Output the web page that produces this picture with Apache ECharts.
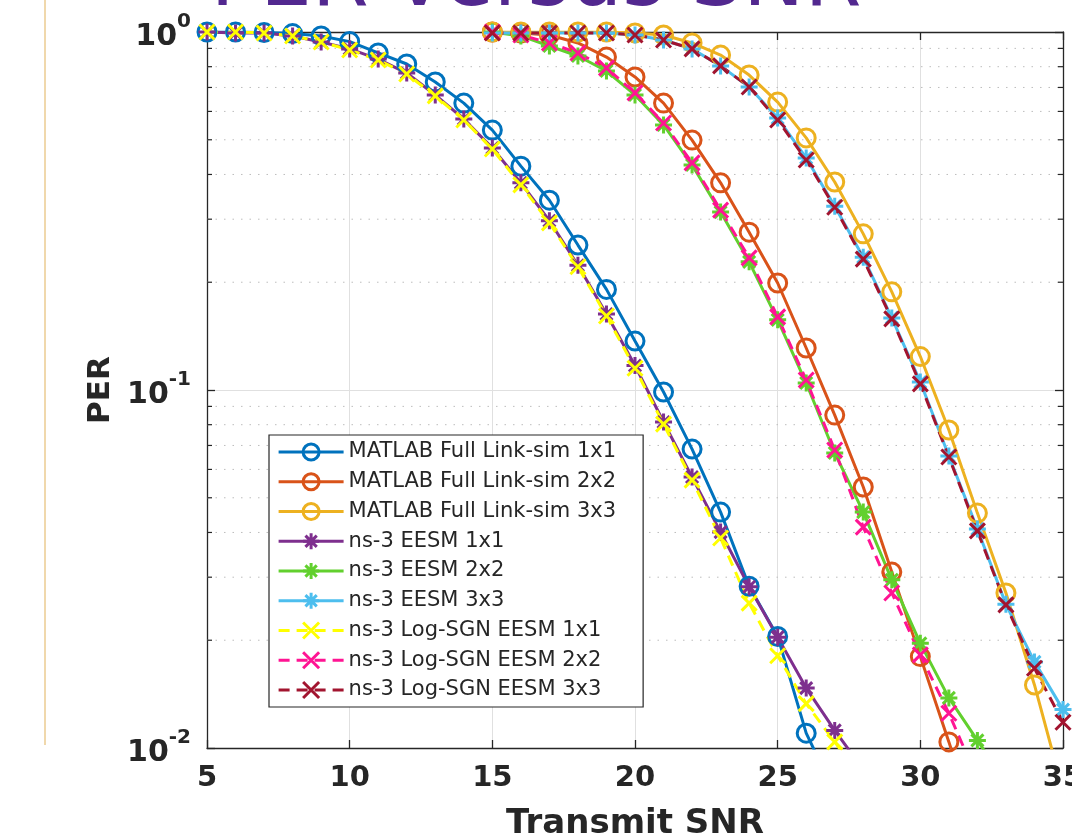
<!DOCTYPE html>
<html><head><meta charset="utf-8">
<script src="https://cdn.jsdelivr.net/npm/echarts@6/dist/echarts.min.js"></script>
<style>html,body{margin:0;padding:0;background:#fff;overflow:hidden}#c{width:1072px;height:835px}</style>
</head><body><div id="c"></div><script>
// ---- data ----
const snr_5_27 = [5,6,7,8,9,10,11,12,13,14,15,16,17,18,19,20,21,22,23,24,25,26,27];
const snr_5_28 = [5,6,7,8,9,10,11,12,13,14,15,16,17,18,19,20,21,22,23,24,25,26,27,28];
const snr_15_32 = [15,16,17,18,19,20,21,22,23,24,25,26,27,28,29,30,31,32];
const snr_15_33 = [15,16,17,18,19,20,21,22,23,24,25,26,27,28,29,30,31,32,33];
const snr_15_35 = [15,16,17,18,19,20,21,22,23,24,25,26,27,28,29,30,31,32,33,34,35];

const perMatlab1x1 = [1.0,1.0,0.997,0.99,0.975,0.94,0.874,0.814,0.725,0.633,0.532,0.422,0.339,0.254,0.191,0.137,0.0987,0.0684,0.0456,0.0283,0.0205,0.0110,0.0075];
const perMatlab2x2 = [1.0,0.994,0.981,0.932,0.851,0.749,0.633,0.499,0.379,0.276,0.199,0.131,0.0851,0.0536,0.0310,0.0180,0.0104,0.0059];
const perMatlab3x3 = [1.0,1.0,1.0,1.0,1.0,0.994,0.981,0.932,0.862,0.758,0.637,0.506,0.381,0.273,0.188,0.124,0.0773,0.0453,0.0271,0.0150,0.0076];
const perEesm1x1 = [1.0,0.994,0.994,0.975,0.938,0.897,0.840,0.768,0.667,0.571,0.474,0.379,0.297,0.223,0.163,0.117,0.0814,0.0571,0.0401,0.0282,0.0204,0.0147,0.0112,0.0087];
const perEesm2x2 = [1.0,0.975,0.914,0.857,0.778,0.667,0.550,0.425,0.314,0.228,0.157,0.1046,0.0667,0.0456,0.0295,0.0196,0.0138,0.0105,0.0080];
const perEesm3x3 = [0.994,0.994,0.994,0.994,0.994,0.981,0.950,0.897,0.804,0.702,0.575,0.445,0.326,0.235,0.159,0.1053,0.0654,0.0409,0.0252,0.0174,0.0128];
const perLogSgn1x1 = [1.0,1.0,0.994,0.975,0.938,0.891,0.835,0.763,0.663,0.568,0.471,0.374,0.293,0.221,0.161,0.115,0.0803,0.0560,0.0386,0.0254,0.0181,0.0133,0.0104,0.0081];
const perLogSgn2x2 = [1.0,0.981,0.932,0.874,0.793,0.676,0.557,0.431,0.318,0.234,0.160,0.1066,0.0680,0.0414,0.0271,0.0182,0.0125,0.0082];
const perLogSgn3x3 = [0.994,0.994,0.994,0.994,0.994,0.981,0.950,0.897,0.804,0.702,0.568,0.439,0.324,0.232,0.158,0.104,0.0650,0.0404,0.0251,0.0167,0.0118];

const seriesNames = ['MATLAB Full Link-sim 1x1','MATLAB Full Link-sim 2x2','MATLAB Full Link-sim 3x3',
  'ns-3 EESM 1x1','ns-3 EESM 2x2','ns-3 EESM 3x3',
  'ns-3 Log-SGN EESM 1x1','ns-3 Log-SGN EESM 2x2','ns-3 Log-SGN EESM 3x3'];
const minorTicks = [0.02,0.03,0.04,0.05,0.06,0.07,0.08,0.09,0.2,0.3,0.4,0.5,0.6,0.7,0.8,0.9];
const xMin = 5, xMax = 35, xStep = 5, yMin = 0.01, yMax = 1;
const titleText = 'PER versus SNR';
const xName = 'Transmit SNR', yName = 'PER';

// ---- styles ----
const FONT = 'DejaVu Sans';
const INK = '#262626';
const SYM = {
  circle: 'path://M10,0 A10,10 0 1,1 -10,0 A10,10 0 1,1 10,0 Z',
  star: 'path://M0,-10 L0,10 M-10,0 L10,0 M-7.07,-7.07 L7.07,7.07 M-7.07,7.07 L7.07,-7.07',
  cross: 'path://M-10,-10 L10,10 M-10,10 L10,-10'
};
function mk(name, xs, ys, color, sym, size, dashed) {
  return {
    type: 'line', name: name,
    data: xs.map((x, i) => [x, ys[i]]),
    symbol: SYM[sym], symbolSize: size, showSymbol: true,
    clip: true, animation: false,
    lineStyle: { color: color, width: 3, type: dashed ? [11, 7] : 'solid' },
    itemStyle: { color: 'transparent', borderColor: color, borderWidth: 3 },
    emphasis: { disabled: true }
  };
}
const series = [
  {
    type: 'custom', name: 'minorGrid', silent: true, z: 1,
    data: minorTicks.map(v => [xMin, v]),
    renderItem: function (params, api) {
      const v = api.value(1);
      const p0 = api.coord([xMin, v]);
      const p1 = api.coord([xMax, v]);
      return { type: 'group', children: [
        { type: 'line', shape: { x1: p0[0], y1: p0[1], x2: p1[0], y2: p1[1] },
          style: { stroke: '#bdbdbd', lineWidth: 1, lineDash: [1.5, 7] } },
        { type: 'line', shape: { x1: p0[0], y1: p0[1], x2: p0[0] + 5, y2: p0[1] },
          style: { stroke: INK, lineWidth: 1.2 } },
        { type: 'line', shape: { x1: p1[0] - 5, y1: p1[1], x2: p1[0], y2: p1[1] },
          style: { stroke: INK, lineWidth: 1.2 } }
      ] };
    }
  },
  mk(seriesNames[0], snr_5_27, perMatlab1x1, '#0072BD', 'circle', 18, false),
  mk(seriesNames[1], snr_15_32, perMatlab2x2, '#D95319', 'circle', 18, false),
  mk(seriesNames[2], snr_15_35, perMatlab3x3, '#EDB120', 'circle', 18, false),
  mk(seriesNames[3], snr_5_28, perEesm1x1, '#7E2F8E', 'star', 17, false),
  mk(seriesNames[4], snr_15_33, perEesm2x2, '#62D02E', 'star', 17, false),
  mk(seriesNames[5], snr_15_35, perEesm3x3, '#4DBEEE', 'star', 17, false),
  mk(seriesNames[6], snr_5_28, perLogSgn1x1, '#FFFF00', 'cross', 15, true),
  mk(seriesNames[7], snr_15_32, perLogSgn2x2, '#FF1493', 'cross', 15, true),
  mk(seriesNames[8], snr_15_35, perLogSgn3x3, '#A2142F', 'cross', 15, true)
];

const axisLine = { show: true, onZero: false, lineStyle: { color: INK, width: 1.3 } };
const axisTick = { show: true, inside: true, length: 8, lineStyle: { color: INK, width: 1.3 } };
const gridLine = { show: true, lineStyle: { color: '#e0e0e0', width: 1 } };

const option = {
  animation: false,
  backgroundColor: '#ffffff',
  title: { text: titleText, left: 'center', top: -62,
    textStyle: { fontFamily: FONT, fontSize: 82, fontWeight: 'normal', color: '#52288f' } },
  graphic: [{ type: 'line', shape: { x1: 45, y1: 0, x2: 45, y2: 745 },
    style: { stroke: '#EBCB90', lineWidth: 1.5 }, z: 0 }],
  grid: { left: 207, right: 9, top: 32, bottom: 87, containLabel: false, outerBoundsMode: 'none' },
  legend: {
    data: seriesNames, orient: 'vertical', left: 269, top: 435,
    padding: [6, 27, 6, 8], itemGap: 7.75, itemWidth: 65, itemHeight: 20,
    backgroundColor: '#ffffff', borderColor: INK, borderWidth: 1.2,
    itemStyle: { borderWidth: 3 },
    lineStyle: { width: 3.2 },
    textStyle: { fontFamily: FONT, fontSize: 21, color: INK, lineHeight: 22 },
    selectedMode: false
  },
  xAxis: [
    { type: 'value', min: xMin, max: xMax, interval: xStep, position: 'bottom',
      axisLine: axisLine, axisTick: axisTick, splitLine: gridLine,
      axisLabel: { fontFamily: FONT, fontWeight: 'bold', fontSize: 29, color: INK, margin: 16, showMaxLabel: true, hideOverlap: false },
      name: xName, nameLocation: 'middle', nameGap: 59,
      nameTextStyle: { fontFamily: FONT, fontWeight: 'bold', fontSize: 34, color: INK } },
    { type: 'value', min: xMin, max: xMax, interval: xStep, position: 'top',
      axisLine: axisLine, axisTick: axisTick, splitLine: { show: false }, axisLabel: { show: false } }
  ],
  yAxis: [
    { type: 'log', logBase: 10, min: yMin, max: yMax, position: 'left',
      axisLine: axisLine, axisTick: axisTick, splitLine: gridLine,
      axisLabel: {
        margin: 16, color: INK,
        formatter: function (v) { const e = Math.round(Math.log10(v)); return '{b|10}{s|' + e + '}'; },
        rich: {
          b: { fontFamily: FONT, fontWeight: 'bold', fontSize: 30, color: INK, lineHeight: 40, verticalAlign: 'bottom' },
          s: { fontFamily: FONT, fontWeight: 'bold', fontSize: 20, color: INK, lineHeight: 40, verticalAlign: 'top' }
        }
      },
      name: yName, nameLocation: 'middle', nameGap: 83, nameRotate: 90,
      nameTextStyle: { fontFamily: FONT, fontWeight: 'bold', fontSize: 31, color: INK } },
    { type: 'log', logBase: 10, min: yMin, max: yMax, position: 'right',
      axisLine: axisLine, axisTick: axisTick, splitLine: { show: false }, axisLabel: { show: false } }
  ],
  series: series
};
const chart = echarts.init(document.getElementById('c'), null, { renderer: 'canvas' });
chart.setOption(option);
</script></body></html>
